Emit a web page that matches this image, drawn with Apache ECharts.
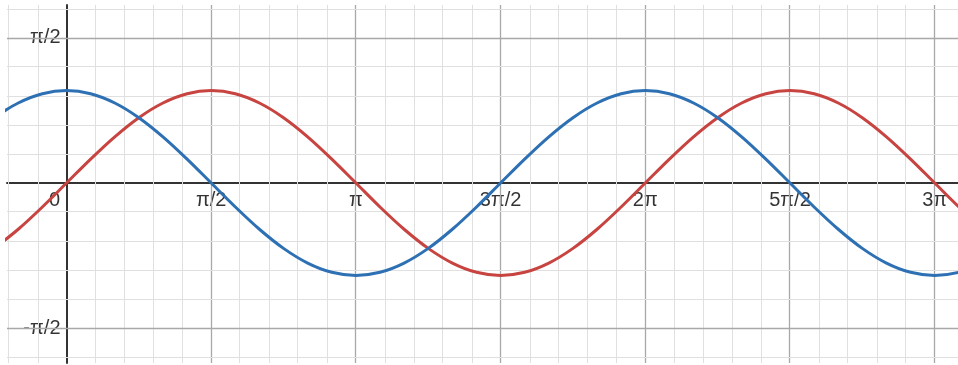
<!DOCTYPE html>
<html>
<head>
<meta charset="utf-8">
<script src="https://cdn.jsdelivr.net/npm/echarts@6/dist/echarts.min.js"></script>
<style>
  html, body { margin: 0; padding: 0; background: #fff; }
  #chart { width: 958px; height: 365px; }
</style>
</head>
<body>
<div id="chart"></div>
<script>
// Sample positions (radians, steps of π/12) and the two curves read at them
const xs = [-0.785, -0.524, -0.262, 0, 0.262, 0.524, 0.785, 1.047, 1.309, 1.571,
  1.833, 2.094, 2.356, 2.618, 2.880, 3.142, 3.403, 3.665, 3.927, 4.189,
  4.451, 4.712, 4.974, 5.236, 5.498, 5.760, 6.021, 6.283, 6.545, 6.807,
  7.069, 7.330, 7.592, 7.854, 8.116, 8.378, 8.639, 8.901, 9.163, 9.425,
  9.687, 9.948, 10.210];
const sinValues = [-0.707, -0.5, -0.259, 0, 0.259, 0.5, 0.707, 0.866, 0.966, 1,
  0.966, 0.866, 0.707, 0.5, 0.259, 0, -0.259, -0.5, -0.707, -0.866,
  -0.966, -1, -0.966, -0.866, -0.707, -0.5, -0.259, 0, 0.259, 0.5,
  0.707, 0.866, 0.966, 1, 0.966, 0.866, 0.707, 0.5, 0.259, 0,
  -0.259, -0.5, -0.707];
const cosValues = [0.707, 0.866, 0.966, 1, 0.966, 0.866, 0.707, 0.5, 0.259, 0,
  -0.259, -0.5, -0.707, -0.866, -0.966, -1, -0.966, -0.866, -0.707, -0.5,
  -0.259, 0, 0.259, 0.5, 0.707, 0.866, 0.966, 1, 0.966, 0.866,
  0.707, 0.5, 0.259, 0, -0.259, -0.5, -0.707, -0.866, -0.966, -1,
  -0.966, -0.866, -0.707];

// Tick labels, placed at multiples of π/2
const xTickLabels = ['0', 'π/2', 'π', '3π/2', '2π', '5π/2', '3π'];
const xTickHalfPi = [0, 1, 2, 3, 4, 5, 6];
const yTickLabels = ['-π/2', 'π/2'];
const yTickHalfPi = [-1, 1];

// Visible window
const xMin = -0.646, xMax = 9.678;
const yMin = -1.947, yMax = 1.926;

const HALF_PI = Math.PI / 2;
const STEP = Math.PI / 10;   // minor grid spacing (5 per π/2)

function gridLines(axisKey, lo, hi) {
  const out = [];
  for (let k = Math.ceil(lo / STEP); k * STEP <= hi; k++) {
    if (k === 0) continue;
    const major = k % 5 === 0;
    out.push({
      [axisKey]: k * STEP,
      lineStyle: { color: major ? '#a8a8a8' : '#e0e0e0', width: major ? 1.3 : 1, type: 'solid' }
    });
  }
  return out;
}

const labelFont = {
  color: '#000',
  fontSize: 20,
  fontFamily: 'Liberation Sans, Arial, sans-serif',
  textBorderColor: '#fff',
  textBorderWidth: 3
};

const chart = echarts.init(document.getElementById('chart'), null, { renderer: 'canvas' });
chart.setOption({
  animation: false,
  backgroundColor: '#fff',
  grid: { left: 7, right: 0, top: 5, bottom: 2, containLabel: false, outerBoundsMode: 'none' },
  xAxis: {
    type: 'value', min: xMin, max: xMax, z: 3,
    axisLine: { show: true, onZero: true, lineStyle: { color: '#333', width: 2 } },
    axisTick: { show: false },
    splitLine: { show: false },
    axisLabel: { show: false }
  },
  yAxis: {
    type: 'value', min: yMin, max: yMax, z: 3,
    axisLine: { show: true, onZero: true, lineStyle: { color: '#333', width: 2 } },
    axisTick: { show: false },
    splitLine: { show: false },
    axisLabel: { show: false }
  },
  series: [
    {
      // background grid
      type: 'line', data: [], z: 1, silent: true,
      markLine: {
        silent: true, symbol: ['none', 'none'], label: { show: false },
        animation: false,
        data: gridLines('xAxis', xMin, xMax).concat(gridLines('yAxis', yMin, yMax))
      }
    },
    {
      // x tick labels, below the x axis
      type: 'scatter', z: 4, silent: true, symbolSize: 0,
      data: xTickHalfPi.map((n, i) => ({
        value: [n * HALF_PI, 0],
        label: {
          show: true, position: 'bottom', distance: 7,
          offset: i === 0 ? [-12, 0] : [0, 0],
          formatter: xTickLabels[i], ...labelFont
        }
      }))
    },
    {
      // y tick labels, left of the y axis
      type: 'scatter', z: 4, silent: true, symbolSize: 0,
      data: yTickHalfPi.map((n, i) => ({
        value: [0, n * HALF_PI],
        label: {
          show: true, position: 'left', distance: 6,
          formatter: yTickLabels[i], ...labelFont
        }
      }))
    },
    {
      name: 'sin', type: 'line', z: 5, smooth: 0.33, showSymbol: false, clip: true,
      data: xs.map((x, i) => [x, sinValues[i]]),
      lineStyle: { color: '#c74440', width: 3 }
    },
    {
      name: 'cos', type: 'line', z: 5, smooth: 0.33, showSymbol: false, clip: true,
      data: xs.map((x, i) => [x, cosValues[i]]),
      lineStyle: { color: '#2d70b3', width: 3 }
    }
  ]
});
</script>
</body>
</html>
